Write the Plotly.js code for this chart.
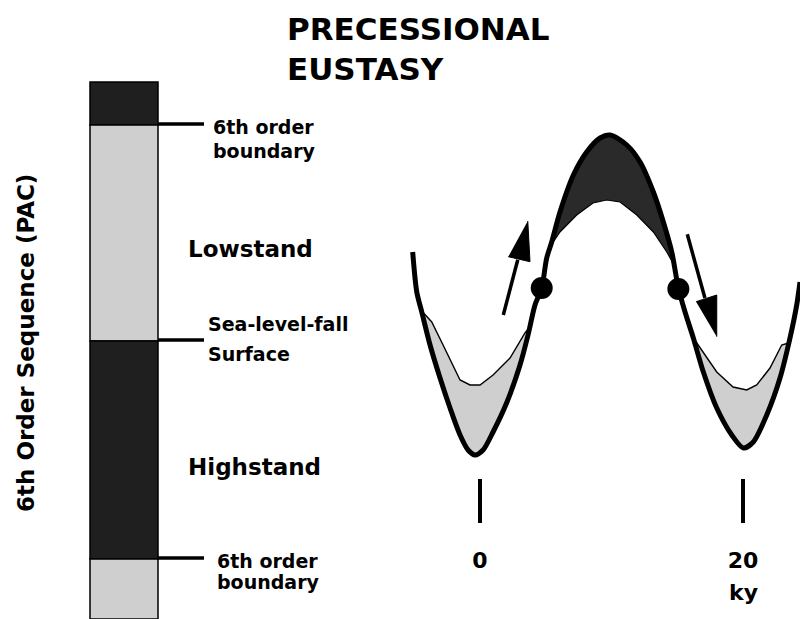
<!DOCTYPE html>
<html>
<head>
<meta charset="utf-8">
<script src="https://cdn.plot.ly/plotly-3.0.1.min.js"></script>
<style>html,body{margin:0;padding:0;background:#fff;}#chart{width:800px;height:619px;}</style>
</head>
<body>
<div id="chart"></div>
<script>
// ---------- DATA ----------
// Sea-level curve: time (ky) vs diagram level (smaller = higher sea level)
const curveKy    = [-5.12,-4.81,-4.43,-3.80,-3.04,-2.28,-1.52,-0.91,-0.38,0.23,0.99,2.05,3.04,3.65,4.18,4.69,5.07,5.45,6.08,7.10,8.11,9.13,9.89,11.16,12.17,13.18,13.94,14.58,15.08,15.59,16.22,16.98,18.00,19.14,20.02,20.78,21.80,22.81,23.57,24.08,24.33];
const curveLevel = [252,292,312,345,378,408,435,450,455,450,432,402,365,335,305,288,258,242,212,175,152,138,135,145,162,192,222,252,288,312,338,372,408,435,448,442,415,378,338,305,282];

// Lowstand wedge in the left trough (upper thin boundary, then back along the curve)
const lowLeftKy    = [-4.43,-3.67,-2.81,-1.52,-0.76,0.00,0.99,2.28,3.42,3.73, 3.65,3.04,2.05,0.99,0.23,-0.38,-0.91,-1.52,-2.28,-3.04,-3.80,-4.43];
const lowLeftLevel = [311,322,345,380,385,385,375,358,333,328, 335,365,402,432,450,455,450,435,408,378,345,312];

// Lowstand wedge in the right trough
const lowRightKy    = [16.22,16.96,18.00,19.24,20.28,21.04,22.05,22.94,23.45, 22.81,21.80,20.78,20.02,19.14,18.00,16.98,16.22];
const lowRightLevel = [338,352,372,387,390,385,368,345,343, 378,415,442,448,435,408,372,338];

// Highstand cap on the crest (outer = curve, then inner boundary back)
const highKy    = [5.32,5.45,6.08,7.10,8.11,9.13,9.89,11.16,12.17,13.18,13.94,14.58,14.76, 14.20,13.18,11.92,10.65,9.63,8.59,7.35,6.08,5.32];
const highLevel = [247,242,212,175,152,138,135,145,162,192,222,252,265, 252,232,215,202,200,203,215,232,247];

// Sea-level-fall / sea-level-rise inflection points
const dotKy    = [4.69, 15.08];
const dotLevel = [288, 289];

// Arrows: rising (left) and falling (right)
const riseShaftKy = [1.77, 2.87],  riseShaftLevel = [315, 259.7];
const riseHeadKy  = [3.63, 3.80, 2.15], riseHeadLevel = [221, 261.7, 256.7];
const fallShaftKy = [15.76, 17.10], fallShaftLevel = [234.3, 298];
const fallHeadKy  = [18.00, 18.00, 16.43], fallHeadLevel = [336.7, 295, 301.7];

// Time ticks
const tickKy = [0, 20];
const tickLabels = ['0', '20'];
const timeUnit = 'ky';

// 6th order sequence column: segment tops / bottoms (diagram level) and facies
const segTop    = [82, 125, 341, 559];
const segBottom = [125, 341, 559, 619];
const segFacies = ['dark', 'light', 'dark', 'light'];

// Boundary leader lines (diagram level)
const leaderLevel = [124, 340, 558];

// ---------- DRAW ----------
const DARK = '#1f1f1f', LIGHT = '#cfcfcf', PEAK = '#2a2a2a';
const F = 'DejaVu Sans, Liberation Sans, Arial, sans-serif';

const colX = 124, colW = 68, leadX0 = 158, leadX1 = 204;

const traces = [];
// column
traces.push({
  type: 'bar', xaxis: 'x2', yaxis: 'y',
  x: segTop.map(() => colX), base: segTop,
  y: segTop.map((t, i) => segBottom[i] - t),
  width: colW,
  marker: {color: segFacies.map(f => f === 'dark' ? DARK : LIGHT), line: {color: '#000', width: 1.5}},
  hoverinfo: 'skip'
});
// leaders
const lx = [], ly = [];
leaderLevel.forEach(l => { lx.push(leadX0, leadX1, null); ly.push(l, l, null); });
traces.push({type: 'scatter', mode: 'lines', xaxis: 'x2', yaxis: 'y', x: lx, y: ly,
  line: {color: '#000', width: 3.5}, hoverinfo: 'skip'});

// fills
traces.push({type: 'scatter', mode: 'lines', x: lowLeftKy, y: lowLeftLevel, fill: 'toself',
  fillcolor: LIGHT, line: {color: '#000', width: 1.4}, hoverinfo: 'skip'});
traces.push({type: 'scatter', mode: 'lines', x: lowRightKy, y: lowRightLevel, fill: 'toself',
  fillcolor: LIGHT, line: {color: '#000', width: 1.4}, hoverinfo: 'skip'});
traces.push({type: 'scatter', mode: 'lines', x: highKy, y: highLevel, fill: 'toself',
  fillcolor: PEAK, line: {color: '#000', width: 1.2}, hoverinfo: 'skip'});

// main curve
traces.push({type: 'scatter', mode: 'lines', x: curveKy, y: curveLevel,
  line: {color: '#000', width: 5, shape: 'spline', smoothing: 0.8}, hoverinfo: 'skip'});

// dots
traces.push({type: 'scatter', mode: 'markers', x: dotKy, y: dotLevel,
  marker: {color: '#000', size: 22}, hoverinfo: 'skip'});

// arrows
[[riseShaftKy, riseShaftLevel, riseHeadKy, riseHeadLevel],
 [fallShaftKy, fallShaftLevel, fallHeadKy, fallHeadLevel]].forEach(a => {
  traces.push({type: 'scatter', mode: 'lines', x: a[0], y: a[1], line: {color: '#000', width: 3.5}, hoverinfo: 'skip'});
  traces.push({type: 'scatter', mode: 'lines', x: a[2], y: a[3], fill: 'toself', fillcolor: '#000',
    line: {color: '#000', width: 1}, hoverinfo: 'skip'});
});

function lab(text, x, y, size, extra) {
  return Object.assign({text: text, xref: 'x2', yref: 'y', x: x, y: y, xanchor: 'left', yanchor: 'middle',
    showarrow: false, font: {family: F, size: size, color: '#000', weight: 'bold'}}, extra || {});
}

const annotations = [
  lab('6th order', 211, 126.5, 19),
  lab('boundary', 211, 150.5, 19),
  lab('Lowstand', 186, 249, 23),
  lab('Sea-level-fall', 206, 323.5, 19),
  lab('Surface', 206, 353.5, 19),
  lab('Highstand', 186, 467, 23),
  lab('6th order', 215, 560.5, 19),
  lab('boundary', 215, 581.5, 19),
  lab('6th Order Sequence (PAC)', 26, 343, 23, {xanchor: 'center', textangle: -90}),
  {text: timeUnit, xref: 'x', yref: 'y', x: tickKy[1], y: 592, xanchor: 'center', yanchor: 'middle',
   showarrow: false, font: {family: F, size: 22, color: '#000', weight: 'bold'}}
];

const layout = {
  width: 800, height: 619,
  margin: {l: 0, r: 0, t: 0, b: 0},
  paper_bgcolor: '#fff', plot_bgcolor: '#fff',
  showlegend: false,
  font: {family: F, color: '#000'},
  title: {text: 'PRECESSIONAL<br>EUSTASY', x: 287 / 800, xanchor: 'left', y: 1 - 40 / 619, yanchor: 'top',
          font: {family: F, size: 31, color: '#000', weight: 'bold'}},
  xaxis: {range: [-36.5, 24.33], domain: [0, 1], anchor: 'free', position: 1 - 478 / 619,
          showgrid: false, zeroline: false, showline: false,
          ticks: 'outside', ticklen: 44, tickwidth: 4, tickcolor: '#000',
          tickmode: 'array', tickvals: tickKy, ticktext: tickLabels,
          tickfont: {family: F, size: 22, color: '#000', weight: 'bold'},
          ticklabelstandoff: 19, fixedrange: true},
  xaxis2: {overlaying: 'x', range: [0, 800], visible: false, anchor: 'y', fixedrange: true},
  yaxis: {range: [619, 0], domain: [0, 1], visible: false, fixedrange: true},
  bargap: 0,
  annotations: annotations
};

Plotly.newPlot('chart', traces, layout, {displayModeBar: false, staticPlot: true});
</script>
</body>
</html>
